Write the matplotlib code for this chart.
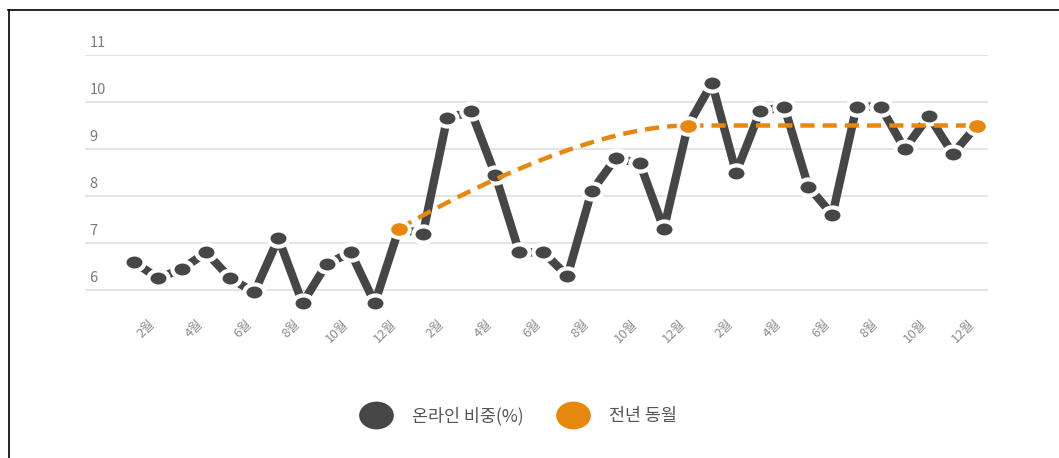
import numpy as np
import matplotlib.pyplot as plt
from matplotlib.lines import Line2D
from matplotlib.markers import MarkerStyle
from matplotlib.path import Path
from matplotlib.transforms import Affine2D, blended_transform_factory

plt.rcParams['font.family'] = ['Noto Sans CJK KR', 'DejaVu Sans']

# 3년치 월별 온라인 비중(%)
months = np.arange(1, 37)
online = [6.6, 6.25, 6.45, 6.8, 6.25, 5.95, 7.1, 5.72, 6.55, 6.8, 5.72, 7.3,
          7.2, 9.65, 9.8, 8.45, 6.8, 6.8, 6.3, 8.1, 8.8, 8.7, 7.3, 9.5,
          10.4, 8.5, 9.8, 9.9, 8.2, 7.6, 9.9, 9.9, 9.0, 9.7, 8.9, 9.5]

# 전년 동월 (12월 기준)
prev_months = [12, 24, 36]
prev_values = [7.3, 9.5, 9.5]

tick_months = list(range(2, 37, 2))
tick_labels = ['%d월' % m for m in [2, 4, 6, 8, 10, 12] * 3]
y_ticks = [6, 7, 8, 9, 10, 11]

legend_labels = ['온라인 비중(%)', '전년 동월']
gray = '#464646'
orange = '#E8870E'


def spline(xs, ys, smoothing=1.5, steps=40):
    # 각 점의 좌우 제어점을 구해 베지어 곡선으로 잇는다
    xs = np.asarray(xs, float)
    ys = np.asarray(ys, float)
    n = len(xs)
    left = [(xs[i], ys[i]) for i in range(n)]
    right = [(xs[i], ys[i]) for i in range(n)]
    denom = smoothing + 1
    for i in range(1, n - 1):
        px, py = xs[i], ys[i]
        lx, ly = xs[i - 1], ys[i - 1]
        nx, ny = xs[i + 1], ys[i + 1]
        lcx = (smoothing * px + lx) / denom
        lcy = (smoothing * py + ly) / denom
        rcx = (smoothing * px + nx) / denom
        rcy = (smoothing * py + ny) / denom
        corr = (rcy - lcy) * (rcx - px) / (rcx - lcx) + py - rcy
        lcy += corr
        rcy += corr
        if lcy > ly and lcy > py:
            lcy = max(ly, py)
            rcy = 2 * py - lcy
        elif lcy < ly and lcy < py:
            lcy = min(ly, py)
            rcy = 2 * py - lcy
        if rcy > ny and rcy > py:
            rcy = max(ny, py)
            lcy = 2 * py - rcy
        elif rcy < ny and rcy < py:
            rcy = min(ny, py)
            lcy = 2 * py - rcy
        left[i] = (lcx, lcy)
        right[i] = (rcx, rcy)
    t = np.linspace(0, 1, steps)[:, None]
    out = [np.array([[xs[0], ys[0]]])]
    for i in range(1, n):
        p0 = np.array([xs[i - 1], ys[i - 1]])
        c1 = np.array(right[i - 1])
        c2 = np.array(left[i])
        p1 = np.array([xs[i], ys[i]])
        seg = ((1 - t) ** 3) * p0 + 3 * ((1 - t) ** 2) * t * c1 + 3 * (1 - t) * t ** 2 * c2 + t ** 3 * p1
        out.append(seg[1:])
    pts = np.vstack(out)
    return pts[:, 0], pts[:, 1]


dot = MarkerStyle(Affine2D().scale(1.25, 1).transform_path(Path.unit_circle()))

fig = plt.figure(figsize=(10.59, 4.58), dpi=100)
ax = fig.add_axes([0.0803, 0.3155, 0.8527, 0.5644])

for y in y_ticks:
    ax.axhline(y, color='#e2e2e2', lw=1.3, zorder=0)

ax.plot(months, online, color=gray, lw=6, solid_capstyle='butt', zorder=2, clip_on=False)
ax.plot(months, online, ls='none', marker=dot, ms=14.5, mfc=gray, mec='white', mew=3,
        zorder=3, clip_on=False)

ox, oy = spline(prev_months, prev_values)
ax.plot(ox, oy, color=orange, lw=3.2, dashes=(3.2, 1.8), zorder=4, clip_on=False)
ax.plot(prev_months, prev_values, ls='none', marker=dot, ms=14.5, mfc=orange, mec='white',
        mew=2.5, zorder=5, clip_on=False)

ax.set_xlim(-1.03, 36.46)
ax.set_ylim(5.5, 11)
for s in ax.spines.values():
    s.set_visible(False)

ax.set_yticks([])
trans = blended_transform_factory(ax.transAxes, ax.transData)
for y in y_ticks:
    ax.text(0.005, y + 0.1, str(y), transform=trans, ha='left', va='bottom',
            fontsize=10.5, color='#7a7a7a')

ax.set_xticks(tick_months)
ax.set_xticklabels(tick_labels, rotation=45, ha='right', fontsize=9.5, color='#8c8c8c')
ax.tick_params(axis='x', length=0, pad=3)

handles = [Line2D([], [], ls='none', marker=dot, ms=25, mfc=gray, mec='none'),
           Line2D([], [], ls='none', marker=dot, ms=25, mfc=orange, mec='none')]
fig.legend(handles, legend_labels, loc='center', bbox_to_anchor=(0.491, 0.092), ncol=2,
           frameon=False, fontsize=12.5, labelcolor='#555555', handletextpad=1.3,
           columnspacing=2.1, handlelength=1.5)

# 그림 테두리 (위, 왼쪽)
fig.add_artist(Line2D([8 / 1059, 1], [1 - 9.5 / 458, 1 - 9.5 / 458], color='black', lw=1.2))
fig.add_artist(Line2D([8.5 / 1059, 8.5 / 1059], [0, 1 - 9.5 / 458], color='black', lw=1.2))

fig.savefig('out.png', dpi=100)
